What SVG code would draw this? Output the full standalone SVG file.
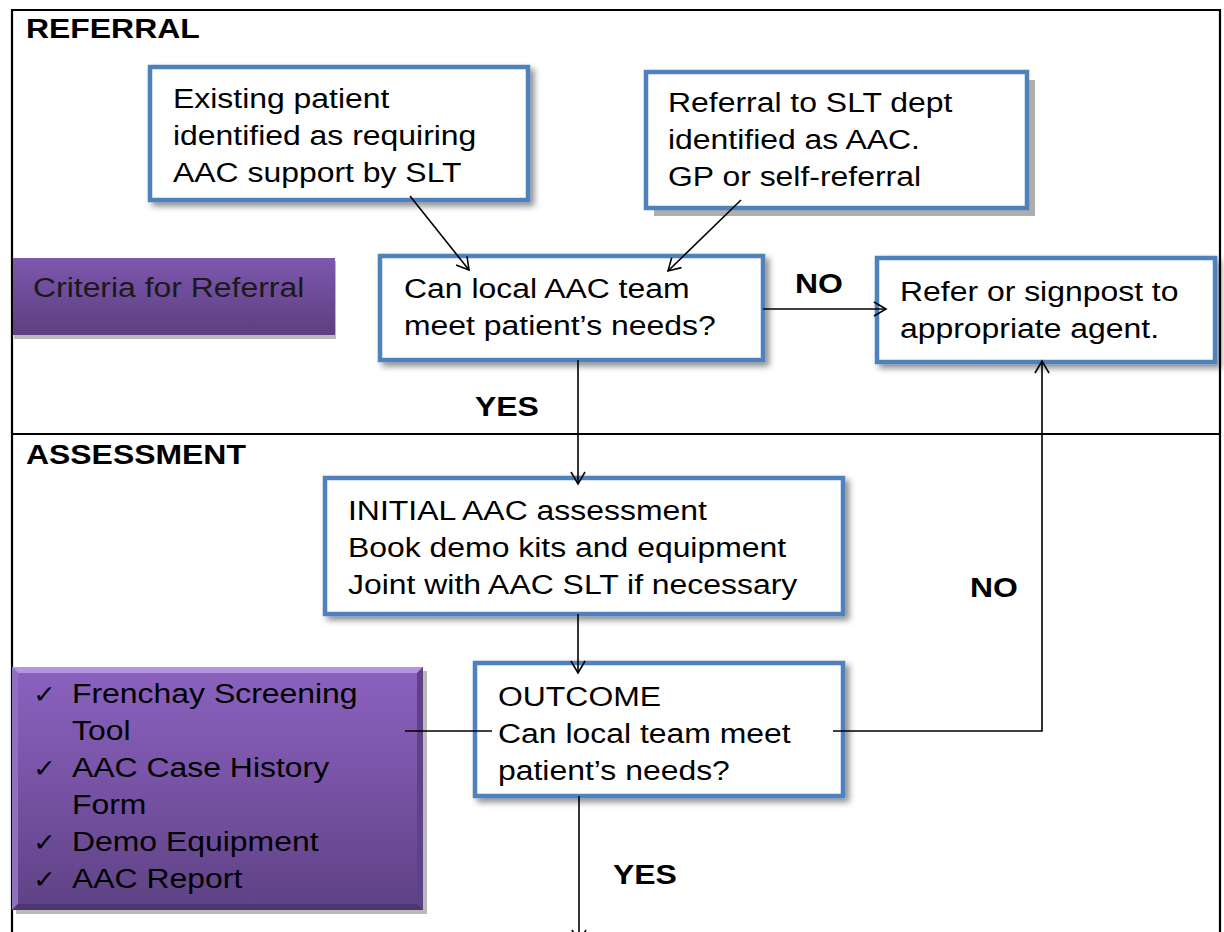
<svg xmlns="http://www.w3.org/2000/svg" width="1224" height="932" viewBox="0 0 1224 932">
<style>
.t{font-family:"Liberation Sans","DejaVu Sans",Arial,sans-serif;font-size:28px;fill:#000}
.b{font-weight:bold}
.box{fill:#fff;stroke:#4F81BD;stroke-width:4.5}
.ln{stroke:#000;stroke-width:1.6;fill:none}
.frame{stroke:#000;stroke-width:2.2;fill:none}
</style>
<defs>
<filter id="sh" x="-10%" y="-10%" width="130%" height="140%">
<feDropShadow dx="4" dy="4" stdDeviation="3" flood-color="#000" flood-opacity="0.45"/>
</filter>
<marker id="ar" markerWidth="16" markerHeight="16" refX="13" refY="8" orient="auto" markerUnits="userSpaceOnUse">
<path d="M1,1 L13,8 L1,15" fill="none" stroke="#000" stroke-width="1.6"/>
</marker>
<linearGradient id="pg1" x1="0" y1="0" x2="0" y2="1">
<stop offset="0" stop-color="#7E57AF"/>
<stop offset="1" stop-color="#5C3F7F"/>
</linearGradient>
<linearGradient id="pg2" x1="0" y1="0" x2="0" y2="1">
<stop offset="0" stop-color="#8B62BF"/>
<stop offset="0.5" stop-color="#7752A4"/>
<stop offset="1" stop-color="#5E4284"/>
</linearGradient>
</defs>

<g id="frame">
<path class="frame" d="M12,940 L12,10 L1220,10 L1220,940"/>
<line class="frame" x1="12" y1="434" x2="1220" y2="434"/>
</g>

<g id="section-labels">
<text class="t b" transform="translate(26,38) scale(1.14,1)">REFERRAL</text>
<text class="t b" transform="translate(26,464) scale(1.14,1)">ASSESSMENT</text>
</g>

<g id="edge-labels">
<text class="t b" transform="translate(795,293) scale(1.14,1)">NO</text>
<text class="t b" transform="translate(475,416) scale(1.14,1)">YES</text>
<text class="t b" transform="translate(970,597) scale(1.14,1)">NO</text>
<text class="t b" transform="translate(613,884) scale(1.14,1)">YES</text>
</g>

<g id="node-existing">
<rect class="box" x="150" y="67" width="378" height="133" filter="url(#sh)"/>
<text class="t" transform="translate(173,108) scale(1.14,1)"><tspan x="0" y="0">Existing patient</tspan><tspan x="0" y="37">identified as requiring</tspan><tspan x="0" y="74">AAC support by SLT</tspan></text>
</g>

<g id="node-referral">
<rect x="654" y="80" width="381" height="136" fill="#9a9a9a" opacity="0.8"/>
<rect class="box" x="646" y="72" width="381" height="136"/>
<text class="t" transform="translate(668,112) scale(1.14,1)"><tspan x="0" y="0">Referral to SLT dept</tspan><tspan x="0" y="37">identified as AAC.</tspan><tspan x="0" y="74">GP or self-referral</tspan></text>
</g>

<g id="node-criteria">
<rect x="14" y="261" width="322" height="78" fill="#8c8c8c" opacity="0.6"/>
<rect x="13" y="258" width="322" height="77" fill="url(#pg1)"/>
<text class="t" style="fill:#1a1a1a" transform="translate(33,297) scale(1.14,1)">Criteria for Referral</text>
</g>

<g id="node-can-local">
<rect class="box" x="380" y="256" width="383" height="104" filter="url(#sh)"/>
<text class="t" transform="translate(404,298) scale(1.14,1)"><tspan x="0" y="0">Can local AAC team</tspan><tspan x="0" y="37">meet patient’s needs?</tspan></text>
</g>

<g id="node-refer">
<rect class="box" x="877" y="258" width="338" height="104" filter="url(#sh)"/>
<text class="t" transform="translate(900,301) scale(1.14,1)"><tspan x="0" y="0">Refer or signpost to</tspan><tspan x="0" y="37">appropriate agent.</tspan></text>
</g>

<g id="node-initial">
<rect class="box" x="325" y="478" width="518" height="136" filter="url(#sh)"/>
<text class="t" transform="translate(348,520) scale(1.14,1)"><tspan x="0" y="0">INITIAL AAC assessment</tspan><tspan x="0" y="37">Book demo kits and equipment</tspan><tspan x="0" y="74">Joint with AAC SLT if necessary</tspan></text>
</g>

<g id="node-outcome">
<rect class="box" x="475" y="663" width="368" height="133" filter="url(#sh)"/>
<text class="t" transform="translate(498,706) scale(1.14,1)"><tspan x="0" y="0">OUTCOME</tspan><tspan x="0" y="37">Can local team meet</tspan><tspan x="0" y="74">patient’s needs?</tspan></text>
</g>

<g id="node-tools">
<rect x="16" y="671" width="411" height="243" fill="#8c8c8c" opacity="0.6"/>
<rect x="12" y="667" width="411" height="243" fill="url(#pg2)"/>
<polygon points="12,667 423,667 417,673 18,673" fill="#B595E0"/>
<polygon points="12,667 18,673 18,904 12,910" fill="#9070C0"/>
<polygon points="423,667 423,910 417,904 417,673" fill="#5E4287"/>
<polygon points="12,910 18,904 417,904 423,910" fill="#4E3670"/>
<text class="t" transform="translate(33,703) scale(1.1,1)" style="font-size:25px"><tspan x="0" y="0">✓</tspan><tspan x="0" y="74">✓</tspan><tspan x="0" y="148">✓</tspan><tspan x="0" y="185">✓</tspan></text>
<text class="t" transform="translate(72,703) scale(1.14,1)"><tspan x="0" y="0">Frenchay Screening</tspan><tspan x="0" y="37">Tool</tspan><tspan x="0" y="74">AAC Case History</tspan><tspan x="0" y="111">Form</tspan><tspan x="0" y="148">Demo Equipment</tspan><tspan x="0" y="185">AAC Report</tspan></text>
</g>

<g id="connectors">
<line class="ln" x1="410" y1="196" x2="469" y2="270" marker-end="url(#ar)"/>
<line class="ln" x1="741" y1="200" x2="668" y2="271" marker-end="url(#ar)"/>
<line class="ln" x1="763" y1="309" x2="886" y2="309" marker-end="url(#ar)"/>
<line class="ln" x1="578" y1="360" x2="578" y2="484" marker-end="url(#ar)"/>
<line class="ln" x1="578" y1="614" x2="578" y2="673" marker-end="url(#ar)"/>
<line class="ln" x1="405" y1="731" x2="492" y2="731"/>
<polyline class="ln" points="833,731 1042,731 1042,361" marker-end="url(#ar)"/>
<line class="ln" x1="579" y1="796" x2="579" y2="942" marker-end="url(#ar)"/>
</g>
</svg>
